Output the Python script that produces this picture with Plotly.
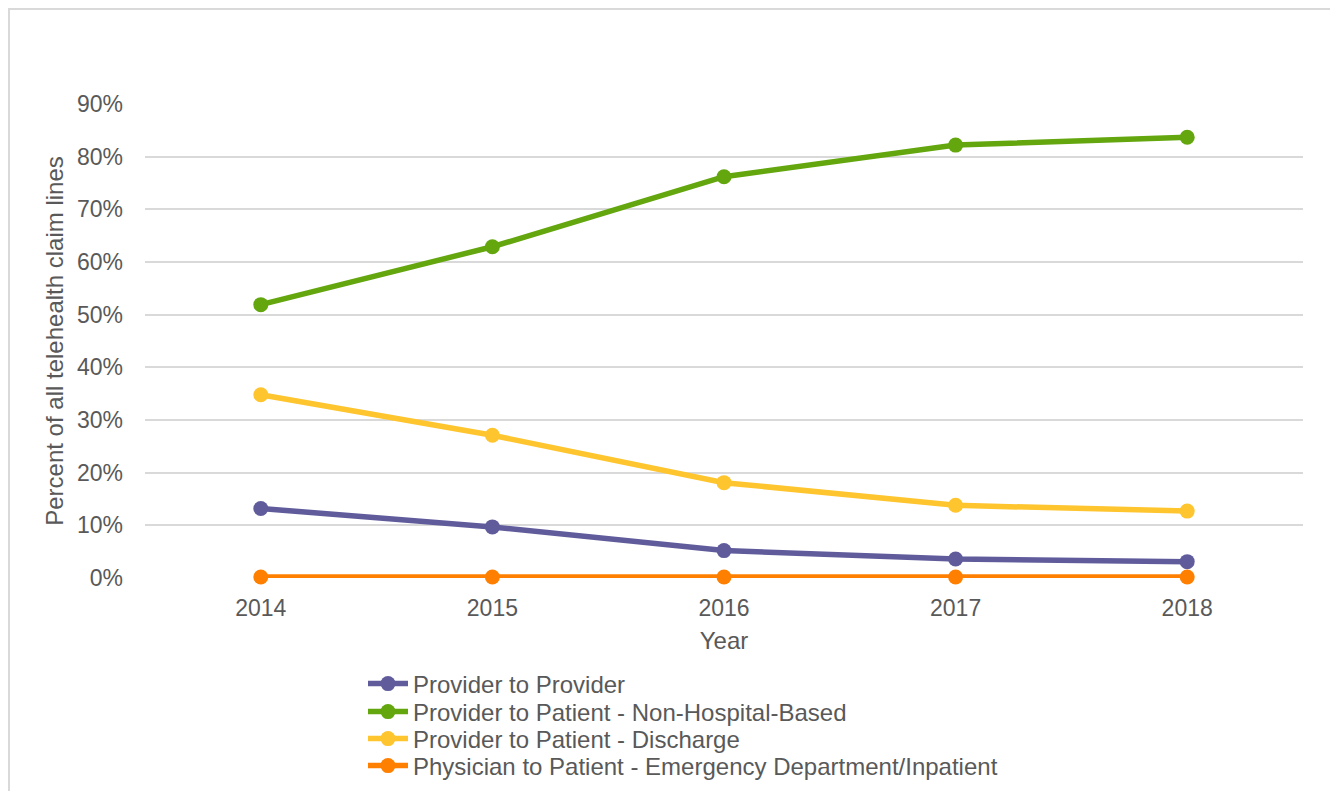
import plotly.graph_objects as go

years = ["2014", "2015", "2016", "2017", "2018"]
provider_to_provider = [0.132, 0.097, 0.052, 0.036, 0.031]
non_hospital = [0.519, 0.629, 0.762, 0.822, 0.837]
discharge = [0.348, 0.271, 0.181, 0.138, 0.127]
emergency = [0.002, 0.002, 0.002, 0.002, 0.002]

names = [
    "Provider to Provider",
    "Provider to Patient - Non-Hospital-Based",
    "Provider to Patient - Discharge",
    "Physician to Patient - Emergency Department/Inpatient",
]
values = [provider_to_provider, non_hospital, discharge, emergency]
colors = ["#605c9c", "#63a60e", "#ffc52e", "#ff8000"]

# page body has an 8px margin; work in screen pixels and convert
OFF = 8
W, H = 1330, 783
SL, SR, ST, SB = 145, 1303, 104, 578  # plot area in screen px
L, R, T, B = SL - OFF, SR - OFF, ST - OFF, SB - OFF


def px_x(p):
    return (p - OFF - L) / (R - L)


def px_y(p):
    return (B - (p - OFF)) / (B - T)


legend_rows = [684, 712, 739, 766]
legend_keys = ["legend", "legend2", "legend3", "legend4"]

fig = go.Figure()
for name, vals, color, lk in zip(names, values, colors, legend_keys):
    fig.add_trace(go.Scatter(
        x=years, y=vals, name=name, mode="lines+markers",
        line=dict(color=color, width=5.5),
        marker=dict(color=color, size=15),
        cliponaxis=False, legend=lk,
    ))

legend_layout = {}
for lk, row in zip(legend_keys, legend_rows):
    legend_layout[lk] = dict(
        x=px_x(363), y=px_y(row), xanchor="left", yanchor="middle",
        font=dict(size=24, color="#595959", family="Liberation Sans, Arial, sans-serif"),
        bgcolor="rgba(0,0,0,0)", itemwidth=40,
    )

fig.update_layout(
    width=W, height=H,
    margin=dict(l=L, r=W - R, t=T, b=H - B, autoexpand=False),
    paper_bgcolor="white", plot_bgcolor="white",
    font=dict(family="Liberation Sans, Arial, sans-serif", color="#595959", size=23),
    xaxis=dict(
        type="category", range=[-0.5, 4.5], showgrid=False, showline=False,
        ticks="", tickfont=dict(size=23), ticklabelstandoff=14,
        title=dict(text="Year", font=dict(size=24), standoff=12),
    ),
    yaxis=dict(
        range=[0, 0.9], dtick=0.1, tickformat=".0%", showgrid=True,
        gridcolor="#d9d9d9", gridwidth=2, zeroline=False, showline=False,
        ticks="", tickfont=dict(size=23), ticklabelstandoff=21,
        title=dict(text="Percent of all telehealth claim lines", font=dict(size=24), standoff=6),
    ),
    showlegend=True,
    shapes=[dict(
        type="rect", xref="paper", yref="paper",
        x0=px_x(9), x1=px_x(1333), y0=px_y(820), y1=px_y(9),
        line=dict(color="#d9d9d9", width=2), layer="below",
    )],
    **legend_layout,
)

fig.write_html("out.html")
